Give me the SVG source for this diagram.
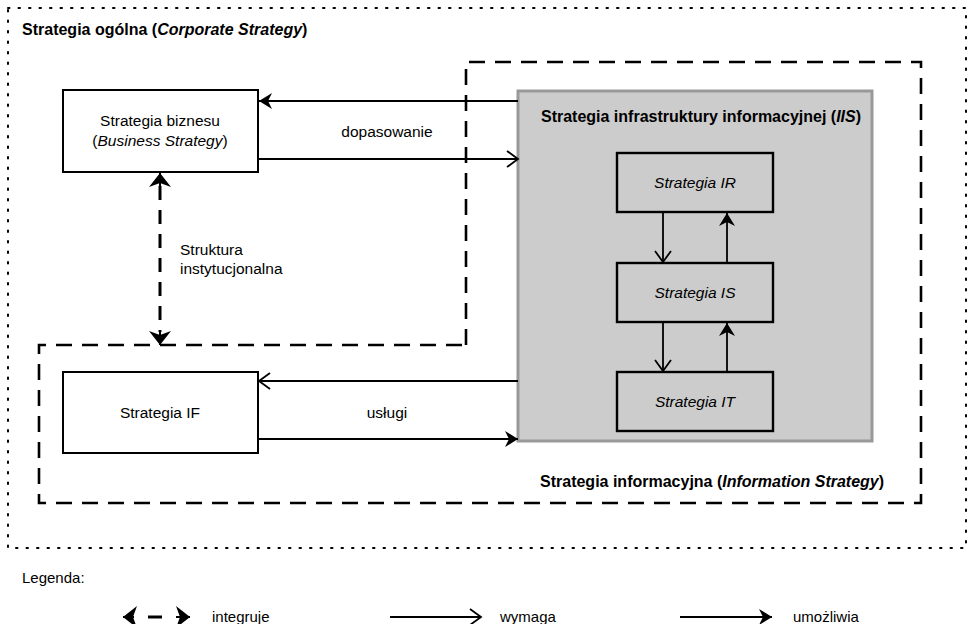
<svg xmlns="http://www.w3.org/2000/svg" width="968" height="624" viewBox="0 0 968 624">
<style>
text{font-family:"Liberation Sans",Arial,sans-serif;font-size:15.5px;fill:#000}
.b{font-weight:bold;font-size:16px}
.lg{font-size:15px}
.box{fill:#fff;stroke:#000;stroke-width:2}
.gbox{fill:#cccccc;stroke:#000;stroke-width:2.4}
.ln{fill:none;stroke:#000;stroke-width:1.8}
.dash{fill:none;stroke:#000;stroke-width:2.6;stroke-dasharray:16 10}
</style>
<defs>
<marker id="fill" markerUnits="userSpaceOnUse" markerWidth="14" markerHeight="16" refX="13" refY="8" orient="auto">
<path d="M0,0 L13,8 L0,16 L4,8 z" fill="#000"/>
</marker>
<marker id="open" markerUnits="userSpaceOnUse" markerWidth="14" markerHeight="18" refX="12" refY="9" orient="auto">
<path d="M1,1 L12,9 L1,17" fill="none" stroke="#000" stroke-width="1.8"/>
</marker>
<marker id="dbl" markerUnits="userSpaceOnUse" markerWidth="16" markerHeight="24" refX="14" refY="12" orient="auto">
<path d="M0,1 L14,12 L0,23 L4,12 z" fill="#000"/>
</marker>
</defs>
<rect x="8" y="8" width="958" height="540" fill="none" stroke="#000" stroke-width="2" stroke-dasharray="1.5 9" stroke-linecap="round"/>
<text x="22" y="35" class="b">Strategia ogólna (<tspan font-style="italic">Corporate Strategy</tspan>)</text>
<path class="dash" d="M466,345 L466,62 L921,62 L921,503 L39,503 L39,345 Z"/>
<g id="iis">
<rect x="518" y="91" width="354" height="350" fill="#cccccc" stroke="#999999" stroke-width="3"/>
<text x="701" y="122" class="b" text-anchor="middle">Strategia infrastruktury informacyjnej (<tspan font-style="italic">IIS</tspan>)</text>
</g>
<g id="biznes">
<rect class="box" x="63" y="90" width="195" height="82"/>
<text x="160" y="126" text-anchor="middle">Strategia biznesu</text>
<text x="160" y="146" text-anchor="middle">(<tspan font-style="italic">Business Strategy</tspan>)</text>
</g>
<g id="if">
<rect class="box" x="63" y="372" width="195" height="81"/>
<text x="160" y="418" text-anchor="middle">Strategia IF</text>
</g>
<g id="ir">
<rect class="gbox" x="617" y="153" width="156" height="59"/>
<text x="695" y="188" text-anchor="middle" font-style="italic">Strategia IR</text>
</g>
<g id="is">
<rect class="gbox" x="617" y="263" width="156" height="59"/>
<text x="695" y="298" text-anchor="middle" font-style="italic">Strategia IS</text>
</g>
<g id="it">
<rect class="gbox" x="617" y="372" width="156" height="59"/>
<text x="695" y="407" text-anchor="middle" font-style="italic">Strategia IT</text>
</g>
<g id="connectors">
<line class="ln" x1="518" y1="101" x2="259" y2="101" marker-end="url(#fill)"/>
<line class="ln" x1="258" y1="159" x2="518" y2="159" marker-end="url(#open)"/>
<text x="387" y="137" text-anchor="middle">dopasowanie</text>
<line class="ln" x1="518" y1="381" x2="259" y2="381" marker-end="url(#open)"/>
<line class="ln" x1="258" y1="439" x2="518" y2="439" marker-end="url(#fill)"/>
<text x="387" y="418" text-anchor="middle">usługi</text>
<line x1="160" y1="186" x2="160" y2="332" stroke="#000" stroke-width="3" stroke-dasharray="14 10"/>
<line x1="160" y1="186" x2="160" y2="173" stroke="#000" stroke-width="2" marker-end="url(#dbl)"/>
<line x1="160" y1="332" x2="160" y2="345" stroke="#000" stroke-width="2" marker-end="url(#dbl)"/>
<text x="180" y="255">Struktura</text>
<text x="180" y="274">instytucjonalna</text>
<line class="ln" x1="663" y1="212" x2="663" y2="262" marker-end="url(#open)"/>
<line class="ln" x1="727" y1="263" x2="727" y2="213" marker-end="url(#fill)"/>
<line class="ln" x1="663" y1="322" x2="663" y2="371" marker-end="url(#open)"/>
<line class="ln" x1="727" y1="372" x2="727" y2="323" marker-end="url(#fill)"/>
</g>
<text x="540" y="487" class="b">Strategia informacyjna (<tspan font-style="italic">Information Strategy</tspan>)</text>
<g id="legend">
<text x="22" y="583" class="lg">Legenda:</text>
<line x1="134" y1="617" x2="123" y2="617" stroke="#000" stroke-width="2" marker-end="url(#dbl)"/>
<line x1="148" y1="617" x2="162" y2="617" stroke="#000" stroke-width="3"/>
<line x1="176" y1="617" x2="190" y2="617" stroke="#000" stroke-width="2" marker-end="url(#dbl)"/>
<text x="212" y="622" class="lg">integruje</text>
<line class="ln" x1="390" y1="617" x2="481" y2="617" marker-end="url(#open)"/>
<text x="500" y="622" class="lg">wymaga</text>
<line class="ln" x1="680" y1="617" x2="772" y2="617" marker-end="url(#fill)"/>
<text x="793" y="622" class="lg">umożliwia</text>
</g>
</svg>
